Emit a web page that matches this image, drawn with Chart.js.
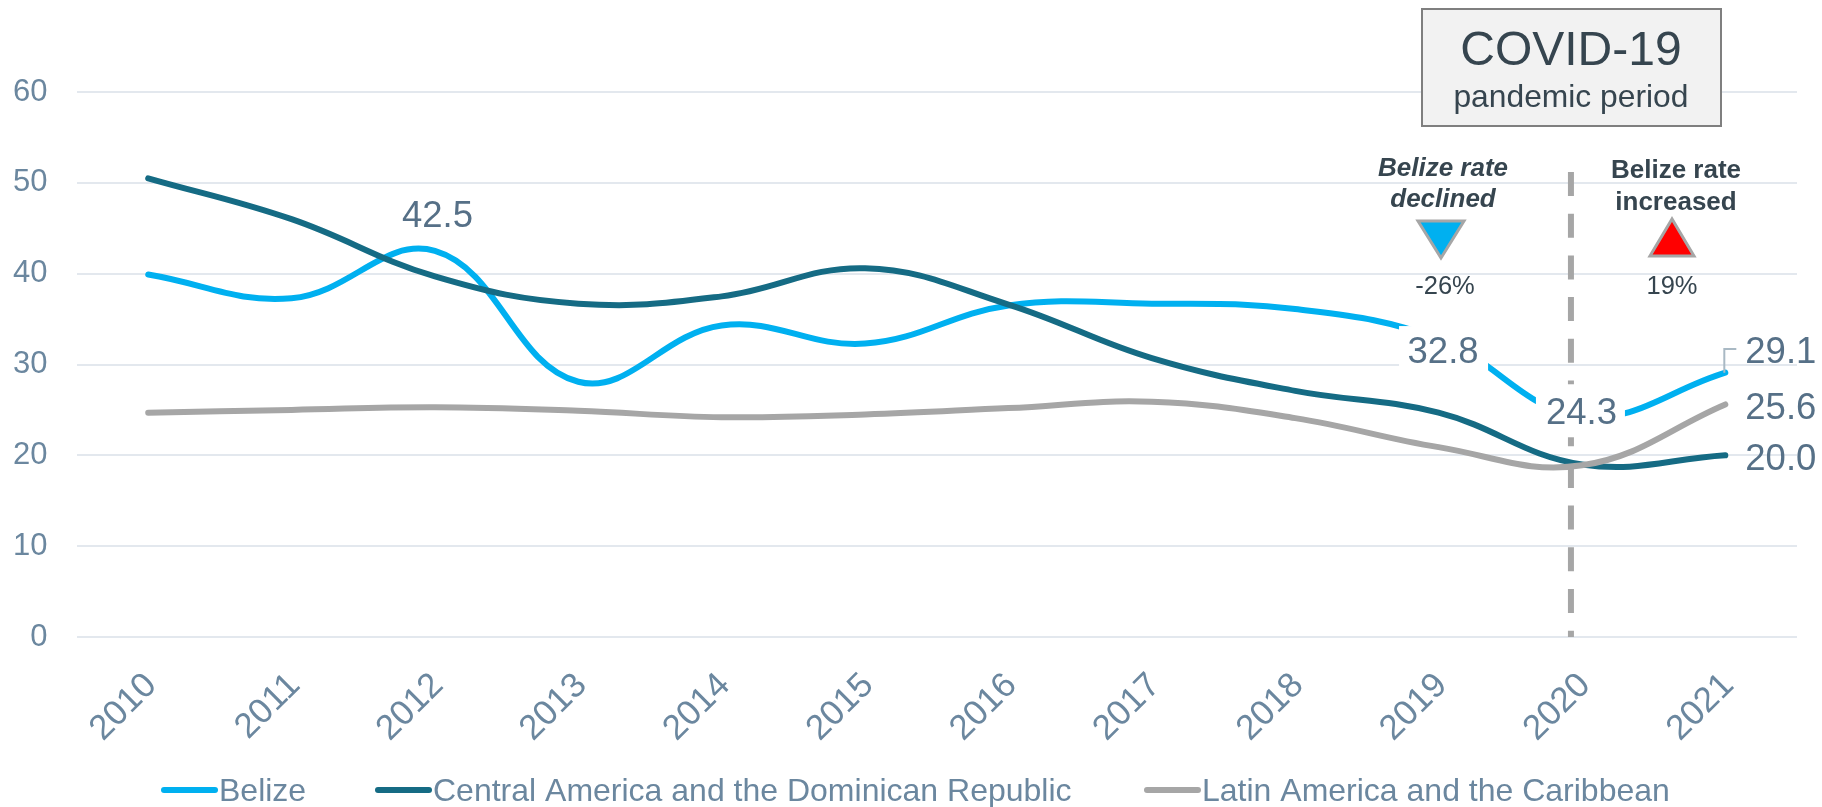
<!DOCTYPE html>
<html>
<head>
<meta charset="utf-8">
<title>Belize rate chart</title>
<script src="https://cdn.jsdelivr.net/npm/chart.js@4"></script>
<style>
    html, body { margin: 0; padding: 0; background: #ffffff; }
    canvas { display: block; }
</style>
</head>
<body>
<canvas id="chart" width="1822" height="807"></canvas>
<script>
const years = ["2010", "2011", "2012", "2013", "2014", "2015", "2016", "2017", "2018", "2019", "2020", "2021"];
const belize = [39.9, 37.3, 42.5, 28.1, 34.3, 32.3, 36.5, 36.7, 36.1, 32.8, 24.3, 29.1];
const centralAmerica = [50.5, 46.0, 39.7, 36.7, 37.5, 40.6, 36.6, 30.7, 27.1, 24.7, 19.0, 20.0];
const latinAmerica = [24.7, 25.0, 25.3, 24.9, 24.2, 24.5, 25.2, 25.9, 24.1, 20.9, 18.9, 25.6];
const seriesNames = ["Belize", "Central America and the Dominican Republic", "Latin America and the Caribbean"];
const seriesColors = ["#00B0F0", "#156B84", "#A6A6A6"];

const FONT = '"Liberation Sans", Arial, sans-serif';
const TICK_COLOR = "#6B879F";
const LABEL_COLOR = "#567087";
const NOTE_COLOR = "#36454F";

function drawText(ctx, text, x, y, font, color, align) {
    ctx.font = font + " " + FONT;
    ctx.fillStyle = color;
    ctx.textAlign = align || "left";
    ctx.textBaseline = "alphabetic";
    ctx.fillText(text, x, y);
}

function drawTriangle(ctx, a, b, c, fill) {
    ctx.beginPath();
    ctx.moveTo(a[0], a[1]);
    ctx.lineTo(b[0], b[1]);
    ctx.lineTo(c[0], c[1]);
    ctx.closePath();
    ctx.fillStyle = fill;
    ctx.fill();
    ctx.strokeStyle = "#A6A6A6";
    ctx.lineWidth = 3;
    ctx.stroke();
}

// Dashed line for the start of the pandemic, sits under the series
const dashPlugin = {
    id: "covidDash",
    beforeDatasetsDraw(chart) {
        const ctx = chart.ctx;
        const x = chart.scales.x.getPixelForValue(10) - 11;
        ctx.save();
        ctx.strokeStyle = "#A6A6A6";
        ctx.lineWidth = 6;
        ctx.setLineDash([24, 17.7]);
        ctx.beginPath();
        ctx.moveTo(x, 172);
        ctx.lineTo(x, chart.scales.y.getPixelForValue(0));
        ctx.stroke();
        ctx.restore();
    }
};

// Value labels, the covid box, the arrows and the legend
const notesPlugin = {
    id: "notes",
    afterDatasetsDraw(chart) {
        const ctx = chart.ctx;
        const sx = chart.scales.x;
        const sy = chart.scales.y;
        const cx = sx.getPixelForValue(10) - 11;
        ctx.save();

        // white boxes behind two of the labels cut the line
        ctx.fillStyle = "#ffffff";
        ctx.fillRect(sx.getPixelForValue(9) - 39.5, sy.getPixelForValue(32.8) - 13, 89, 52);
        ctx.fillRect(sx.getPixelForValue(10) - 46, sy.getPixelForValue(24.3) - 32, 89, 53);

        // leader line of the last Belize point
        const lx = sx.getPixelForValue(11) - 1;
        ctx.strokeStyle = "#A9B9C4";
        ctx.lineWidth = 2;
        ctx.beginPath();
        ctx.moveTo(lx, sy.getPixelForValue(29.1));
        ctx.lineTo(lx, 349);
        ctx.lineTo(lx + 12, 349);
        ctx.stroke();

        const big = "36.5px";
        drawText(ctx, belize[2].toFixed(1), sx.getPixelForValue(2) - 33, sy.getPixelForValue(belize[2]) - 24, big, LABEL_COLOR);
        drawText(ctx, belize[9].toFixed(1), sx.getPixelForValue(9) - 31, sy.getPixelForValue(belize[9]) + 24, big, LABEL_COLOR);
        drawText(ctx, belize[10].toFixed(1), sx.getPixelForValue(10) - 36, sy.getPixelForValue(belize[10]) + 8, big, LABEL_COLOR);
        const rx = sx.getPixelForValue(11) + 20;
        drawText(ctx, belize[11].toFixed(1), rx, 363, big, LABEL_COLOR);
        drawText(ctx, latinAmerica[11].toFixed(1), rx, 419, big, LABEL_COLOR);
        drawText(ctx, centralAmerica[11].toFixed(1), rx, 470, big, LABEL_COLOR);

        // covid box
        ctx.fillStyle = "#F2F2F2";
        ctx.strokeStyle = "#7F7F7F";
        ctx.lineWidth = 2;
        ctx.fillRect(1422, 9, 299, 117);
        ctx.strokeRect(1422, 9, 299, 117);
        drawText(ctx, "COVID-19", cx, 65, "48px", NOTE_COLOR, "center");
        drawText(ctx, "pandemic period", cx, 107, "31.8px", NOTE_COLOR, "center");

        // arrows
        drawText(ctx, "Belize rate", 1443, 176, "italic bold 26px", NOTE_COLOR, "center");
        drawText(ctx, "declined", 1443, 207, "italic bold 26px", NOTE_COLOR, "center");
        drawTriangle(ctx, [1418, 221], [1464, 221], [1441, 258], "#00B0F0");
        drawText(ctx, "-26%", 1445, 294, "25.5px", NOTE_COLOR, "center");

        drawText(ctx, "Belize rate", 1676, 178, "bold 26px", NOTE_COLOR, "center");
        drawText(ctx, "increased", 1676, 210, "bold 26px", NOTE_COLOR, "center");
        drawTriangle(ctx, [1672, 219], [1650, 256], [1694, 256], "#FF0000");
        drawText(ctx, "19%", 1672, 294, "25.5px", NOTE_COLOR, "center");

        // legend, the handle sits closer to the text than the built-in one allows
        const legendStart = [161, 375, 1144];
        seriesNames.forEach((name, i) => {
            ctx.strokeStyle = seriesColors[i];
            ctx.lineWidth = 6;
            ctx.lineCap = "round";
            ctx.beginPath();
            ctx.moveTo(legendStart[i] + 3, 790);
            ctx.lineTo(legendStart[i] + 54, 790);
            ctx.stroke();
            drawText(ctx, name, legendStart[i] + 58, 801, "32px", TICK_COLOR);
        });
        ctx.restore();
    }
};

new Chart(document.getElementById("chart"), {
    type: "line",
    data: {
        labels: years,
        datasets: [belize, centralAmerica, latinAmerica].map((values, i) => ({
            label: seriesNames[i],
            data: values,
            borderColor: seriesColors[i],
            backgroundColor: seriesColors[i],
            borderWidth: 6,
            borderCapStyle: "round",
            pointRadius: 0,
            tension: 0.4,
            order: 3 - i
        }))
    },
    options: {
        responsive: false,
        animation: false,
        layout: { padding: { top: 92, right: 25, left: 0, bottom: 0 } },
        plugins: {
            legend: { display: false },
            tooltip: { enabled: false }
        },
        scales: {
            x: {
                offset: true,
                grid: { display: false },
                border: { display: false },
                ticks: {
                    color: TICK_COLOR,
                    font: { family: FONT, size: 35 },
                    minRotation: 45,
                    maxRotation: 45,
                    padding: 20,
                    labelOffset: 3,
                    autoSkip: false
                },
                afterFit(scale) { scale.height = 170; }
            },
            y: {
                min: 0,
                max: 60,
                grid: { color: "#E3E8EE", lineWidth: 2, drawTicks: false },
                border: { display: false },
                ticks: {
                    stepSize: 10,
                    color: TICK_COLOR,
                    font: { family: FONT, size: 31 },
                    padding: 29
                },
                afterFit(scale) { scale.width = 76.5; }
            }
        }
    },
    plugins: [dashPlugin, notesPlugin]
});
</script>
</body>
</html>
